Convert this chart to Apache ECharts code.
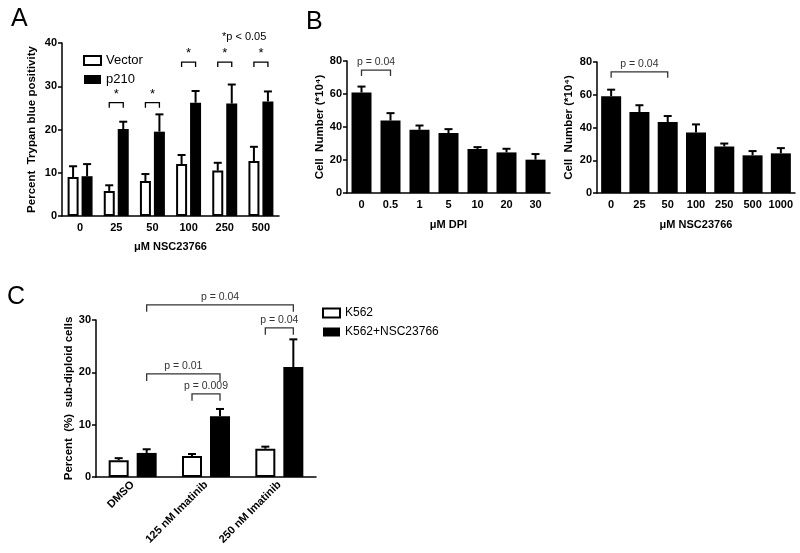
<!DOCTYPE html>
<html><head><meta charset="utf-8">
<script src="https://cdn.jsdelivr.net/npm/echarts@6/dist/echarts.min.js"></script>
<style>html,body{margin:0;padding:0;background:#fff}#c{width:800px;height:553px}</style>
</head><body><div id="c"></div>
<script>
// ---- Panel A ----
const catA = ['0', '25', '50', '100', '250', '500'];
const vectorA = [9.0, 5.8, 8.1, 12.0, 10.5, 12.7];
const vectorErrA = [11.5, 7.1, 9.7, 14.1, 12.3, 16.0];
const p210A = [9.2, 20.1, 19.5, 26.2, 26.0, 26.5];
const p210ErrA = [12.0, 21.8, 23.5, 28.9, 30.4, 28.8];
const sigCatA = [1, 2, 3, 4, 5];
const sigYA = [26.2, 26.2, 35.6, 35.6, 35.6];
const ticksA = [0, 10, 20, 30, 40];

// ---- Panel B ----
const catB1 = ['0', '0.5', '1', '5', '10', '20', '30'];
const dpiB = [60.9, 43.9, 38.3, 36.3, 26.6, 24.6, 20.2];
const dpiErrB = [64.5, 48.4, 40.9, 38.7, 27.8, 26.8, 23.6];
const catB2 = ['0', '25', '50', '100', '250', '500', '1000'];
const nscB = [59.1, 49.4, 43.3, 36.9, 28.4, 23.0, 24.2];
const nscErrB = [63.1, 53.6, 47.0, 41.9, 30.2, 25.6, 27.4];
const sigB1 = [[0, 1, 74.5]];
const sigB2 = [[0, 2, 74.0]];
const sigLabelB = 'p = 0.04';

// ---- Panel C ----
const catC = ['DMSO', '125 nM Imatinib', '250 nM Imatinib'];
const k562C = [3.2, 4.0, 5.4];
const k562ErrC = [3.6, 4.4, 5.8];
const nscC = [4.6, 11.6, 21.0];
const nscErrC = [5.3, 13.0, 26.3];
// [cat1, bar1, cat2, bar2, y]
const sigC = [[0, 1, 2, 1, 32.9], [2, 0, 2, 1, 28.5], [0, 1, 1, 1, 19.7], [1, 0, 1, 1, 15.9]];
const sigLabelsC = ['p = 0.04', 'p = 0.04', 'p = 0.01', 'p = 0.009'];

const FONT = 'Arial, "Liberation Sans", sans-serif';

function errSeries(xi, vals, errs, off) {
  return {
    type: 'custom', xAxisIndex: xi, yAxisIndex: xi, z: 5, silent: true,
    encode: { x: 0, y: 1 },
    data: vals.map((v, i) => [i, v, errs[i]]),
    renderItem(params, api) {
      const b = api.coord([api.value(0), api.value(1)]);
      const t = api.coord([api.value(0), api.value(2)]);
      const x = b[0] + off;
      return { type: 'group', children: [
        { type: 'line', shape: { x1: x, y1: b[1], x2: x, y2: t[1] }, style: { stroke: '#000', lineWidth: 2 } },
        { type: 'line', shape: { x1: x - 4, y1: t[1], x2: x + 4, y2: t[1] }, style: { stroke: '#000', lineWidth: 2 } }
      ]};
    }
  };
}

function bracketSeries(xi, rows, offs, labels, legLen, fontSize, color) {
  return {
    type: 'custom', xAxisIndex: xi, yAxisIndex: xi, z: 6, silent: true, clip: false,
    encode: { x: 0, y: 1 },
    data: rows.map(r => [r[0], r[4]]),
    renderItem(params, api) {
      const r = rows[params.dataIndex];
      const p1 = api.coord([r[0], r[4]]);
      const p2 = api.coord([r[2], r[4]]);
      const x1 = p1[0] + offs[r[1]], x2 = p2[0] + offs[r[3]], y = p1[1];
      return { type: 'group', children: [
        { type: 'polyline', shape: { points: [[x1, y + legLen], [x1, y], [x2, y], [x2, y + legLen]] },
          style: { stroke: color, lineWidth: 1.3, fill: null } },
        { type: 'text', style: { text: labels[params.dataIndex], x: (x1 + x2) / 2, y: y - 2,
          align: 'center', verticalAlign: 'bottom', textAlign: 'center', textVerticalAlign: 'bottom',
          font: fontSize + 'px ' + FONT, fill: color } }
      ]};
    }
  };
}

function xCat(gi, data, name, gap, extraLabel) {
  return {
    type: 'category', gridIndex: gi, data,
    axisLine: { lineStyle: { color: '#000', width: 1.5 } },
    axisTick: { alignWithLabel: true, length: 4, lineStyle: { color: '#000', width: 1.5 } },
    axisLabel: Object.assign({ color: '#000', fontWeight: 'bold', fontSize: 11, fontFamily: FONT, margin: 6, interval: 0 }, extraLabel || {}),
    name, nameLocation: 'middle', nameGap: gap,
    nameTextStyle: { color: '#000', fontWeight: 'bold', fontSize: 11, fontFamily: FONT }
  };
}
function yVal(gi, max, interval, name, gap) {
  return {
    type: 'value', gridIndex: gi, min: 0, max, interval,
    axisLine: { show: true, lineStyle: { color: '#000', width: 1.5 } },
    axisTick: { show: true, length: 4, lineStyle: { color: '#000', width: 1.5 } },
    splitLine: { show: false },
    axisLabel: { color: '#000', fontWeight: 'bold', fontSize: 11, fontFamily: FONT, margin: 5 },
    name, nameLocation: 'middle', nameRotate: 90, nameGap: gap,
    nameTextStyle: { color: '#000', fontWeight: 'bold', fontSize: 11.5, fontFamily: FONT }
  };
}

const whiteBar = { color: '#fff', borderColor: '#000', borderWidth: 2 };
const blackBar = { color: '#000' };

const chart = echarts.init(document.getElementById('c'), null, { renderer: 'canvas' });
chart.setOption({
  animation: false,
  backgroundColor: '#fff',
  grid: [
    { left: 62, top: 43, width: 217, height: 173 },
    { left: 347, top: 61, width: 203, height: 132 },
    { left: 597, top: 62, width: 198, height: 131 },
    { left: 96, top: 320, width: 220, height: 157 }
  ],
  xAxis: [
    xCat(0, catA, 'μM NSC23766', 25),
    xCat(1, catB1, 'μM DPI', 26),
    xCat(2, catB2, 'μM NSC23766', 26),
    xCat(3, catC, '', 10, { rotate: 45 })
  ],
  yAxis: [
    yVal(0, 40, 10, 'Percent  Trypan blue positivity', 24),
    yVal(1, 80, 20, 'Cell  Number (*10⁴)', 18),
    yVal(2, 80, 20, 'Cell  Number (*10⁴)', 22),
    yVal(3, 30, 10, 'Percent  (%)  sub-diploid cells', 18)
  ],
  legend: [
    { data: [{ name: 'Vector', itemStyle: whiteBar }, { name: 'p210', itemStyle: blackBar }],
      orient: 'vertical', left: 78, top: 49, icon: 'rect', itemWidth: 17, itemHeight: 9, itemGap: 6,
      textStyle: { fontSize: 13, fontFamily: FONT, color: '#000' } },
    { data: [{ name: 'K562', itemStyle: whiteBar }, { name: 'K562+NSC23766', itemStyle: blackBar }],
      orient: 'vertical', left: 317, top: 302, icon: 'rect', itemWidth: 17, itemHeight: 9, itemGap: 7,
      textStyle: { fontSize: 12, fontFamily: FONT, color: '#000' } }
  ],
  graphic: [
    { type: 'text', left: 11, top: 7, style: { text: 'A', font: '25px ' + FONT, fill: '#000' } },
    { type: 'text', left: 306, top: 10, style: { text: 'B', font: '25px ' + FONT, fill: '#000' } },
    { type: 'text', left: 7, top: 285, style: { text: 'C', font: '25px ' + FONT, fill: '#000' } },
    { type: 'text', left: 222, top: 31, style: { text: '*p < 0.05', font: '11px ' + FONT, fill: '#000' } }
  ],
  series: [
    { type: 'bar', name: 'Vector', xAxisIndex: 0, yAxisIndex: 0, data: vectorA, barWidth: 11, barGap: '27%', itemStyle: whiteBar },
    { type: 'bar', name: 'p210', xAxisIndex: 0, yAxisIndex: 0, data: p210A, barWidth: 11, barGap: '27%', itemStyle: blackBar },
    errSeries(0, vectorA, vectorErrA, -7),
    errSeries(0, p210A, p210ErrA, 7),
    bracketSeries(0, sigCatA.map((c, i) => [c, 0, c, 1, sigYA[i]]), [-7, 7], sigCatA.map(() => '*'), 5, 13, '#000'),

    { type: 'bar', name: 'DPI', xAxisIndex: 1, yAxisIndex: 1, data: dpiB, barWidth: 20, itemStyle: blackBar },
    errSeries(1, dpiB, dpiErrB, 0),
    bracketSeries(1, sigB1.map(r => [r[0], 0, r[1], 0, r[2]]), [0], [sigLabelB], 6, 10.5, '#333'),

    { type: 'bar', name: 'NSC', xAxisIndex: 2, yAxisIndex: 2, data: nscB, barWidth: 20, itemStyle: blackBar },
    errSeries(2, nscB, nscErrB, 0),
    bracketSeries(2, sigB2.map(r => [r[0], 0, r[1], 0, r[2]]), [0], [sigLabelB], 6, 10.5, '#333'),

    { type: 'bar', name: 'K562', xAxisIndex: 3, yAxisIndex: 3, data: k562C, barWidth: 20, barGap: '40%', itemStyle: whiteBar },
    { type: 'bar', name: 'K562+NSC23766', xAxisIndex: 3, yAxisIndex: 3, data: nscC, barWidth: 20, barGap: '40%', itemStyle: blackBar },
    errSeries(3, k562C, k562ErrC, -14),
    errSeries(3, nscC, nscErrC, 14),
    bracketSeries(3, sigC, [-14, 14], sigLabelsC, 7, 10.5, '#333')
  ]
});
</script></body></html>
